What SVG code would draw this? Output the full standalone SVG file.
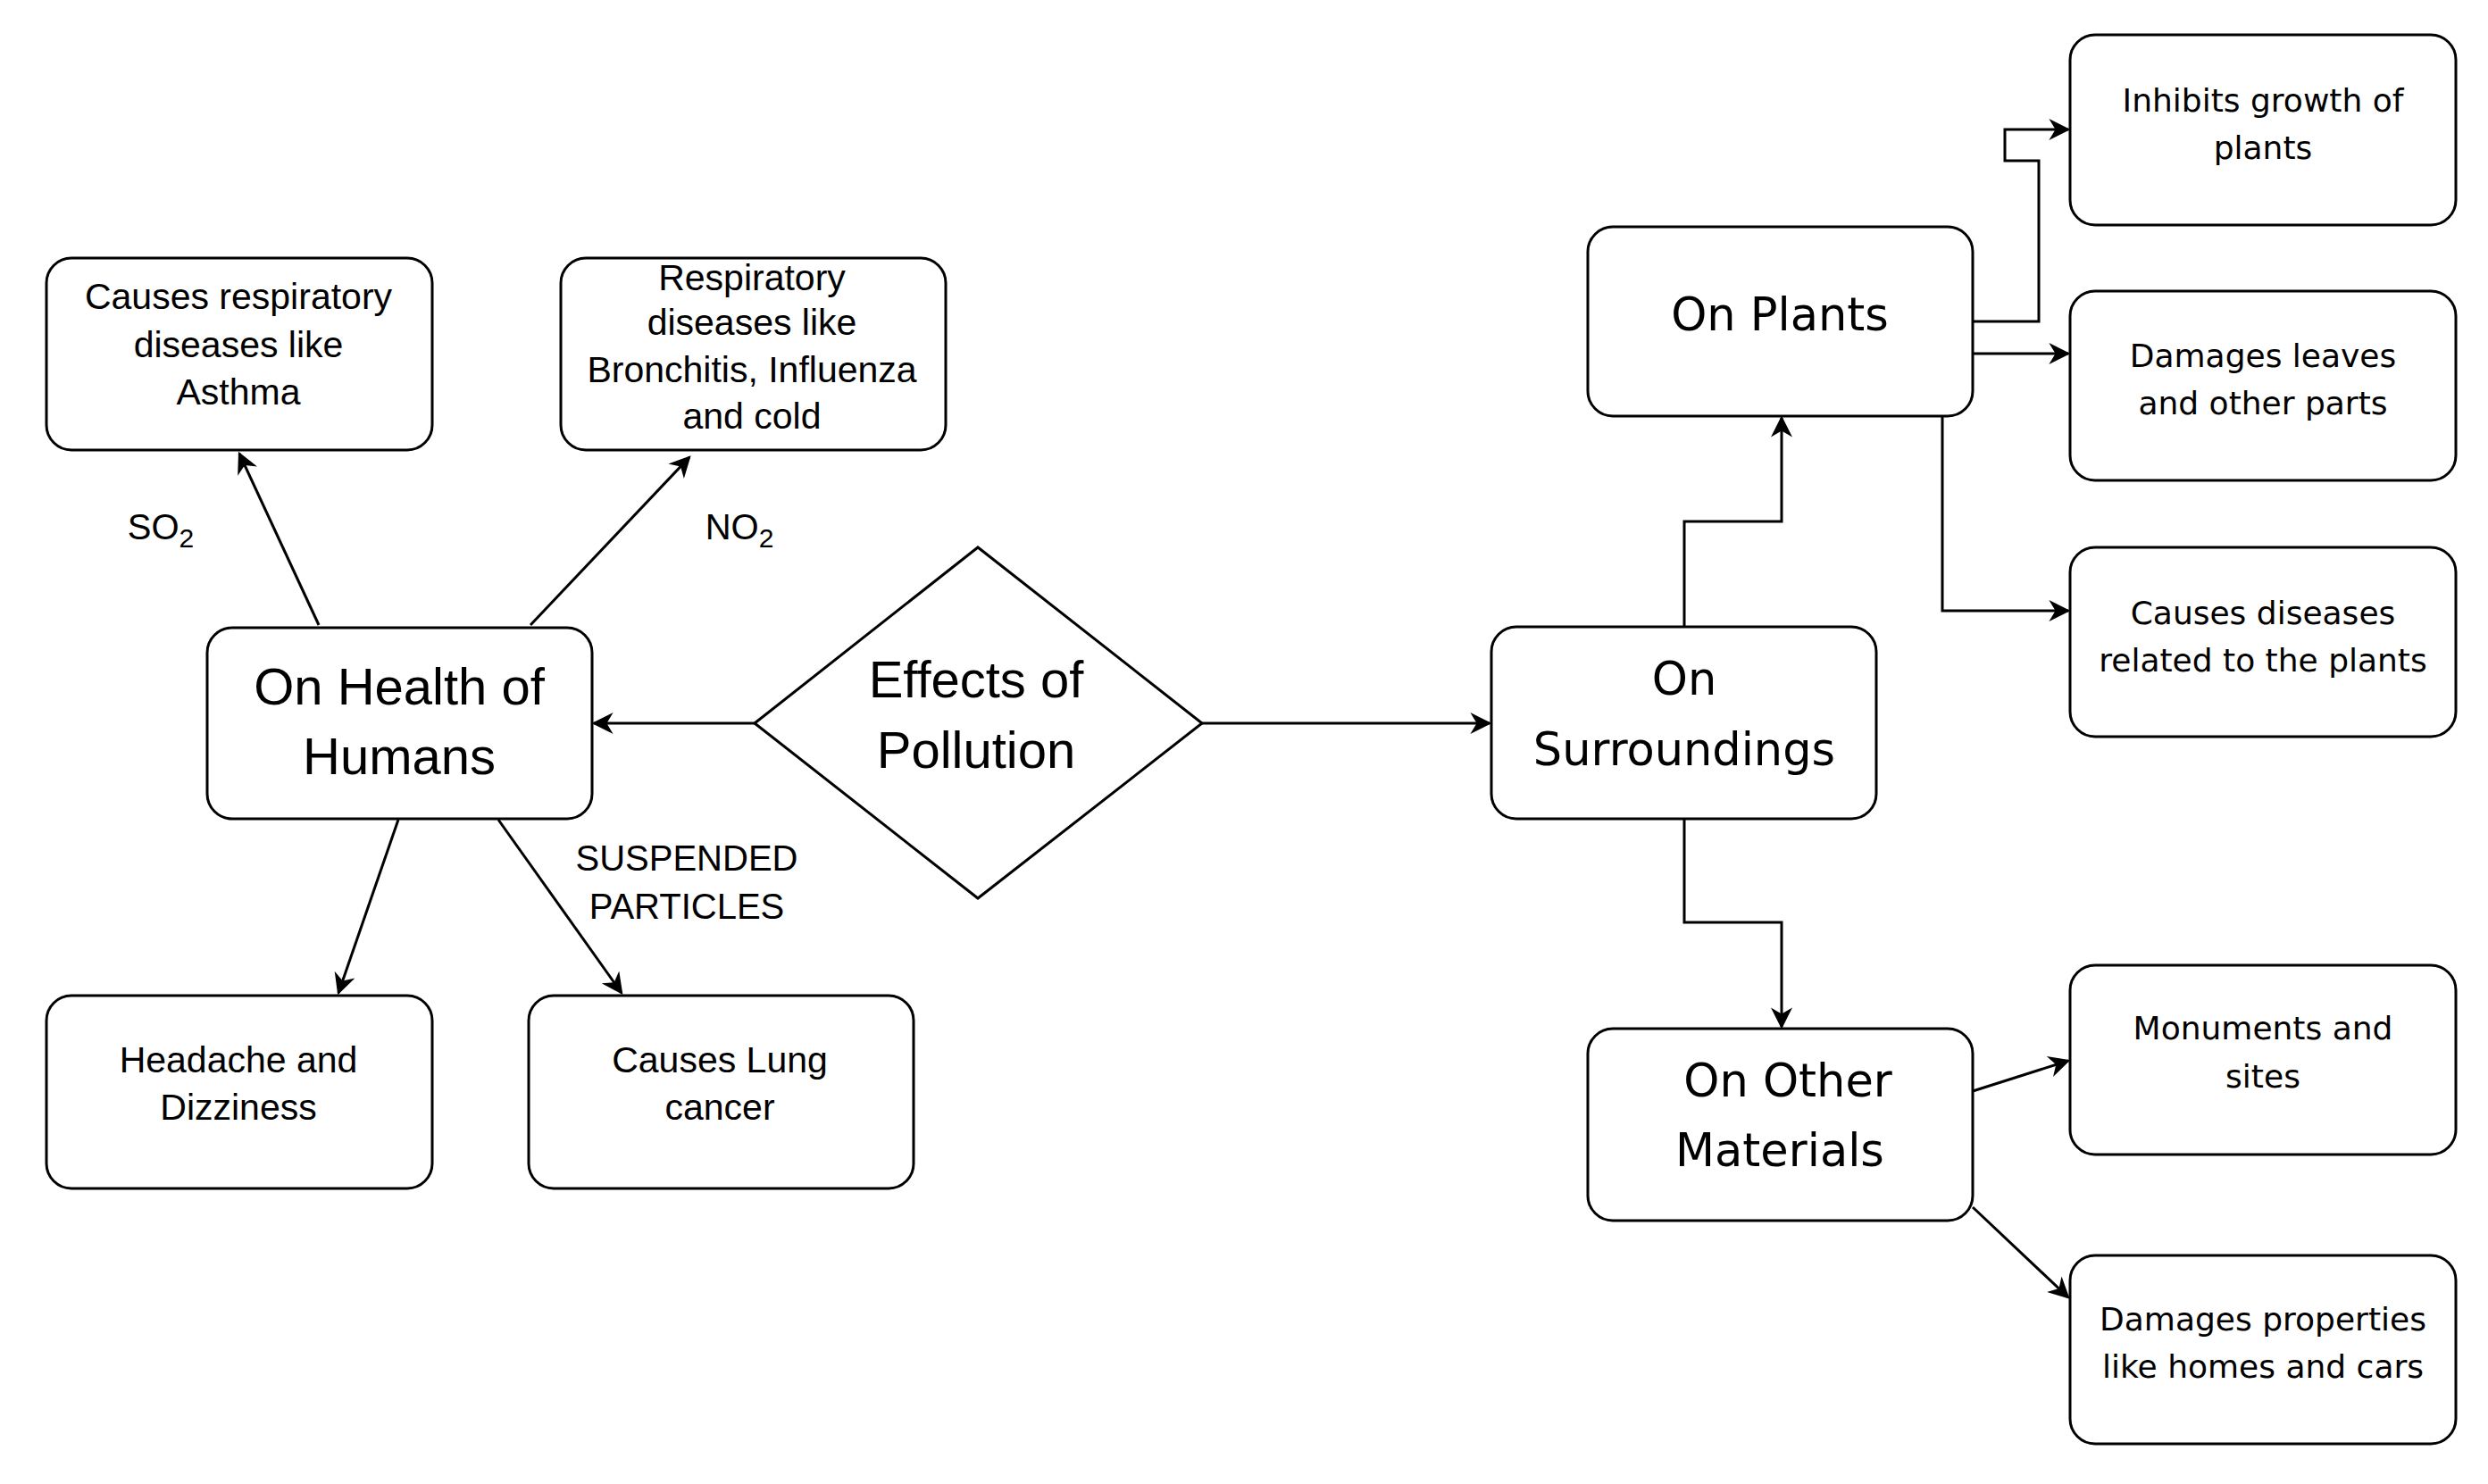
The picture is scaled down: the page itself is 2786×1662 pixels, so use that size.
<svg xmlns="http://www.w3.org/2000/svg" width="2786" height="1662" viewBox="0 0 2786 1662">
<style>
.b{fill:#fff;stroke:#000;stroke-width:3}
.c{fill:none;stroke:#000;stroke-width:3;marker-end:url(#a)}
text{font-family:"Liberation Sans",Arial,sans-serif;fill:#000;text-anchor:middle;dominant-baseline:central}
.s{font-size:41px}
.l{font-size:58px}
.rs{font-family:"DejaVu Sans",sans-serif;font-size:36px}
.rl{font-family:"DejaVu Sans",sans-serif;font-size:51px}
.lab{font-size:40px}
</style>
<defs><marker id="a" markerWidth="14" markerHeight="12" refX="13" refY="6" orient="auto" markerUnits="userSpaceOnUse"><path d="M0,0 L14,6 L0,12 L4,6 Z" fill="#000"/></marker>
<marker id="a2" viewBox="0 0 10 10" markerWidth="28" markerHeight="24" refX="9" refY="5" orient="auto" markerUnits="userSpaceOnUse"><path d="M0,0 L10,5 L0,10 L3,5 Z" fill="#000"/></marker></defs>
<rect width="2786" height="1662" fill="#fff"/>
<g id="connectors" style="marker-end:url(#a2)">
<path class="c" style="marker-end:url(#a2)" d="M845,810 L665,810"/>
<path class="c" style="marker-end:url(#a2)" d="M357,700 L268,508"/>
<path class="c" style="marker-end:url(#a2)" d="M594,700 L772,512"/>
<path class="c" style="marker-end:url(#a2)" d="M446,918 L379,1112"/>
<path class="c" style="marker-end:url(#a2)" d="M558,918 L696,1112"/>
<path class="c" style="marker-end:url(#a2)" d="M1346,810 L1668,810"/>
<path class="c" style="marker-end:url(#a2)" d="M1886,702 L1886,584 L1995,584 L1995,468"/>
<path class="c" style="marker-end:url(#a2)" d="M1886,917 L1886,1033 L1995,1033 L1995,1150"/>
<path class="c" style="marker-end:url(#a2)" d="M2209,360 L2283,360 L2283,180 L2245,180 L2245,145 L2316,145"/>
<path class="c" style="marker-end:url(#a2)" d="M2209,396 L2316,396"/>
<path class="c" style="marker-end:url(#a2)" d="M2175,466 L2175,684 L2316,684"/>
<path class="c" style="marker-end:url(#a2)" d="M2209,1222 L2316,1188"/>
<path class="c" style="marker-end:url(#a2)" d="M2209,1352 L2316,1453"/>
<text class="lab" x="180" y="590">SO<tspan font-size="30" dy="12">2</tspan></text>
<text class="lab" x="828" y="590">NO<tspan font-size="30" dy="12">2</tspan></text>
<text class="lab" x="769" y="961">SUSPENDED</text>
<text class="lab" x="769" y="1015">PARTICLES</text>
</g>
<g id="n-asthma"><rect class="b" x="52" y="289" width="432" height="215" rx="28"/><text class="s" x="267" y="332">Causes respiratory</text><text class="s" x="267" y="386">diseases like</text><text class="s" x="267" y="439">Asthma</text></g>
<g id="n-bronch"><rect class="b" x="628" y="289" width="431" height="215" rx="28"/><text class="s" x="842" y="311">Respiratory</text><text class="s" x="842" y="361">diseases like</text><text class="s" x="842" y="414">Bronchitis, Influenza</text><text class="s" x="842" y="466">and cold</text></g>
<g id="n-health"><rect class="b" x="232" y="703" width="431" height="214" rx="28"/><text class="l" x="447" y="768">On Health of</text><text class="l" x="447" y="846">Humans</text></g>
<g id="n-effects"><path class="b" d="M845,810 L1095,613 L1346,810 L1095,1006 Z"/><text class="l" x="1093" y="760">Effects of</text><text class="l" x="1093" y="839">Pollution</text></g>
<g id="n-headache"><rect class="b" x="52" y="1115" width="432" height="216" rx="28"/><text class="s" x="267" y="1187">Headache and</text><text class="s" x="267" y="1240">Dizziness</text></g>
<g id="n-lung"><rect class="b" x="592" y="1115" width="431" height="216" rx="28"/><text class="s" x="806" y="1187">Causes Lung</text><text class="s" x="806" y="1240">cancer</text></g>
<g id="n-surr"><rect class="b" x="1670" y="702" width="431" height="215" rx="28"/><text class="rl" x="1886" y="760">On</text><text class="rl" x="1886" y="839">Surroundings</text></g>
<g id="n-plants"><rect class="b" x="1778" y="254" width="431" height="212" rx="28"/><text class="rl" x="1993" y="352">On Plants</text></g>
<g id="n-materials"><rect class="b" x="1778" y="1152" width="431" height="215" rx="28"/><text class="rl" x="2002" y="1210">On Other</text><text class="rl" x="1993" y="1288">Materials</text></g>
<g id="n-inhibits"><rect class="b" x="2318" y="39" width="432" height="213" rx="28"/><text class="rs" x="2534" y="112">Inhibits growth of</text><text class="rs" x="2534" y="165">plants</text></g>
<g id="n-leaves"><rect class="b" x="2318" y="326" width="432" height="212" rx="28"/><text class="rs" x="2534" y="398">Damages leaves</text><text class="rs" x="2534" y="451">and other parts</text></g>
<g id="n-pdis"><rect class="b" x="2318" y="613" width="432" height="212" rx="28"/><text class="rs" x="2534" y="686">Causes diseases</text><text class="rs" x="2534" y="739">related to the plants</text></g>
<g id="n-monu"><rect class="b" x="2318" y="1081" width="432" height="212" rx="28"/><text class="rs" x="2534" y="1151">Monuments and</text><text class="rs" x="2534" y="1205">sites</text></g>
<g id="n-prop"><rect class="b" x="2318" y="1406" width="432" height="211" rx="28"/><text class="rs" x="2534" y="1477">Damages properties</text><text class="rs" x="2534" y="1530">like homes and cars</text></g>
</svg>
